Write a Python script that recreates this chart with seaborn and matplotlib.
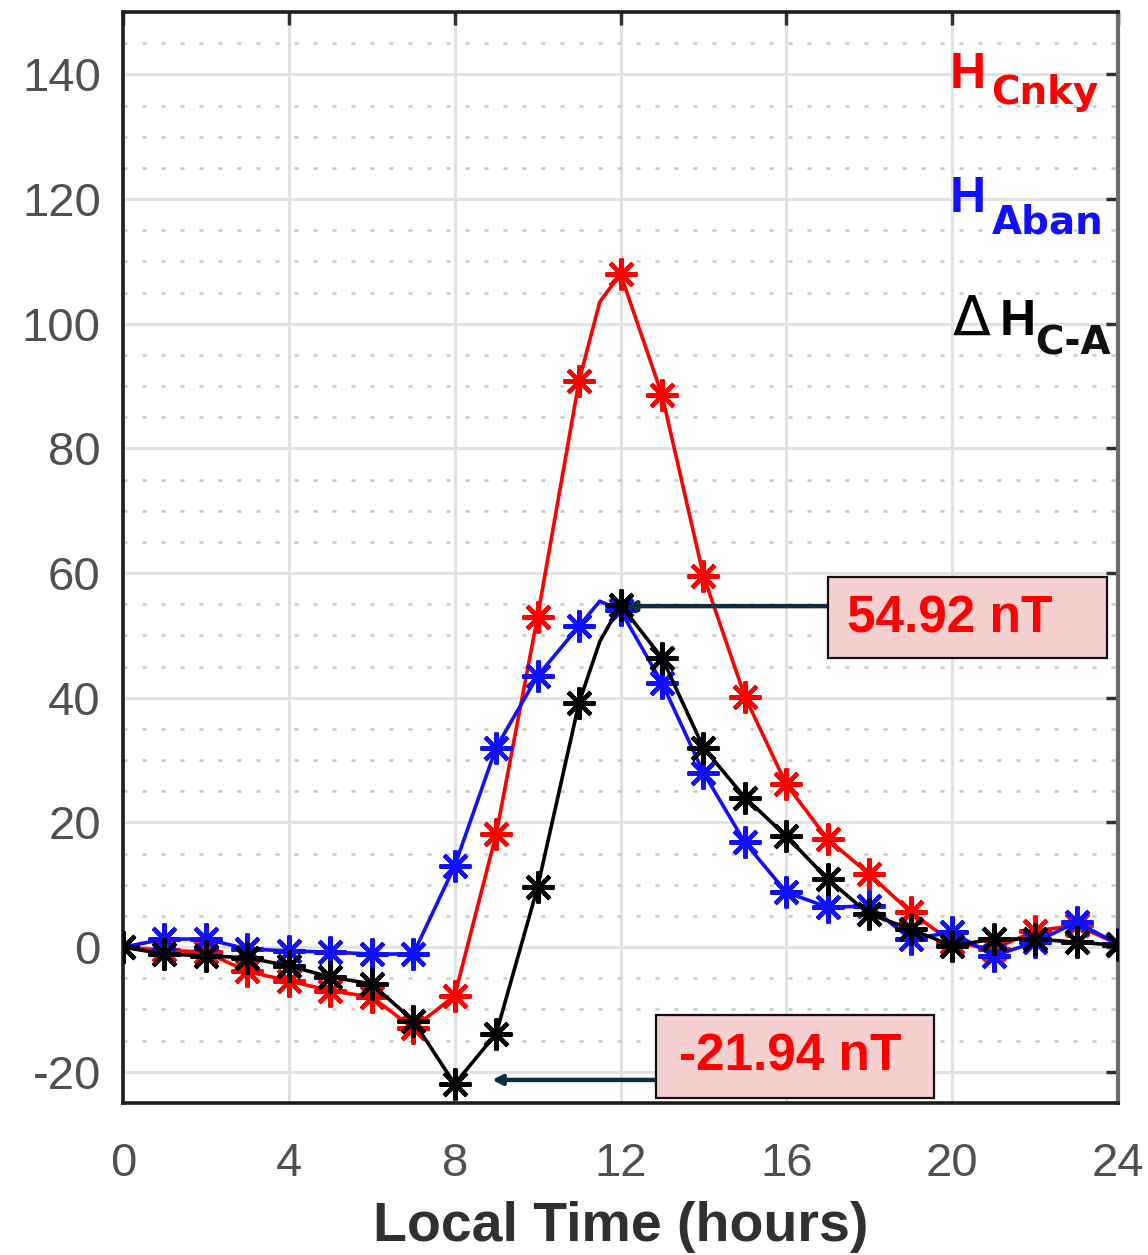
import numpy as np
import pandas as pd
import matplotlib
matplotlib.use("Agg")
import matplotlib.pyplot as plt
import seaborn as sns
from matplotlib.patches import Rectangle
from matplotlib.ticker import MultipleLocator

# ---- data ----
hours = list(range(0, 25))
h_cnky = [0, -0.5, -0.8, -3.9, -5.4, -7.0, -8.0, -13.0, -7.8, 18.1, 53.0, 90.8, 108.0,
          88.6, 59.6, 40.2, 26.1, 17.3, 11.7, 5.6, 0.8, -0.3, 2.6, 3.5, 0.5]
h_aban = [0, 1.3, 1.3, -0.3, -0.6, -0.8, -1.1, -1.1, 13.0, 32.0, 43.5, 51.5, 54.0,
          42.4, 28.0, 16.8, 8.8, 6.4, 6.6, 1.3, 2.4, -1.4, 0.8, 4.0, 0.5]
dh_ca = [0, -1.1, -1.4, -1.7, -3.0, -4.8, -5.9, -11.8, -21.94, -13.9, 9.6, 39.2, 54.92,
         46.4, 32.0, 24.0, 17.8, 10.9, 5.3, 2.9, 0.2, 1.3, 1.3, 0.8, 0.3]

# extra readings of the curves between the hourly markers (near the peak)
mid_hours = [11.5]
h_cnky_mid = [103.5]
h_aban_mid = [55.5]
dh_ca_mid = [49.0]

series_names = ["H_Cnky", "H_Aban", "dH_CA"]
series_colors = ["#FF0000", "#1010FF", "#000000"]
x_ticks = [0, 4, 8, 12, 16, 20, 24]
y_ticks = [-20, 0, 20, 40, 60, 80, 100, 120, 140]
peak_label = "54.92 nT"
trough_label = "-21.94 nT"

hourly = pd.DataFrame({
    "hour": hours * 3,
    "value": h_cnky + h_aban + dh_ca,
    "series": sum([[n] * len(hours) for n in series_names], []),
})
mids = pd.DataFrame({
    "hour": mid_hours * 3,
    "value": h_cnky_mid + h_aban_mid + dh_ca_mid,
    "series": sum([[n] * len(mid_hours) for n in series_names], []),
})
curve = pd.concat([hourly, mids]).sort_values(["series", "hour"])

sns.set_style("white")
plt.rcParams["font.family"] = ["Liberation Sans", "DejaVu Sans"]

fig = plt.figure(figsize=(11.48, 12.55), dpi=100)
ax = fig.add_axes([123 / 1148, 1 - 1103 / 1255, (1118 - 123) / 1148, (1103 - 12) / 1255])

# grid
ax.set_xlim(0, 24)
ax.set_ylim(-25, 150)
ax.xaxis.set_major_locator(MultipleLocator(4))
ax.yaxis.set_major_locator(MultipleLocator(20))
ax.yaxis.set_minor_locator(MultipleLocator(5))
ax.grid(which="major", color="#E2E2E2", linewidth=2.2, linestyle="-", zorder=0)
ax.grid(which="minor", axis="y", color="#C9C9C9", linewidth=1.8, linestyle=(0, (1.6, 6.0)), zorder=0)
ax.set_axisbelow(True)

star = (8, 2, 0)
for name, col in zip(series_names, series_colors):
    sns.lineplot(data=curve[curve["series"] == name], x="hour", y="value", color=col,
                 linewidth=2.6, ax=ax, zorder=3, sort=True)
    sns.lineplot(data=hourly[hourly["series"] == name], x="hour", y="value", color=col,
                 linewidth=0, marker=star, markersize=23, markeredgewidth=3.0,
                 markeredgecolor=col, markerfacecolor=col, ax=ax, zorder=3)

ax.set_xticks(x_ticks)
ax.set_yticks(y_ticks)
ax.set_xticklabels([str(t) for t in x_ticks])
ax.set_yticklabels([str(t) for t in y_ticks])
ax.tick_params(axis="both", which="major", direction="in", length=9, width=2.5,
               labelsize=34, labelcolor="#505050", color="#303030",
               top=True, right=True)
ax.tick_params(axis="x", pad=28)
ax.tick_params(axis="y", pad=16)
ax.tick_params(which="minor", length=0)

for side in ["left", "bottom", "top"]:
    ax.spines[side].set_color("#1E1E1E")
    ax.spines[side].set_linewidth(2.6)
ax.spines["right"].set_color("#6A6A6A")
ax.spines["right"].set_linewidth(3.0)

ax.set_ylabel("")
ax.set_xlabel("Local Time (hours)", fontsize=40, fontweight="bold", color="#303030", labelpad=11)

# legend-like labels
ax.text(19.95, 137.8, "H", color="#FF0000", fontsize=36, fontweight="bold", ha="left", va="baseline")
ax.text(20.95, 135.2, "Cnky", color="#FF0000", fontsize=28, fontweight="bold",
        family="DejaVu Sans", ha="left", va="baseline")
ax.text(19.95, 117.9, "H", color="#1010FF", fontsize=36, fontweight="bold", ha="left", va="baseline")
ax.text(20.95, 114.5, "Aban", color="#1010FF", fontsize=28, fontweight="bold",
        family="DejaVu Sans", ha="left", va="baseline")
ax.text(20.0, 98.2, "\u0394", color="#000000", fontsize=40, fontweight="normal",
        family="DejaVu Sans", ha="left", va="baseline")
ax.text(21.15, 98.2, "H", color="#000000", fontsize=36, fontweight="bold",
        ha="left", va="baseline")
ax.text(22.0, 95.0, "C-A", color="#111111", fontsize=28, fontweight="bold",
        family="DejaVu Sans", ha="left", va="baseline", clip_on=False)

# annotation boxes
box_fc = "#F6CFCF"
arrow_c = "#0F2D40"
ax.add_patch(Rectangle((17.0, 46.3), 6.73, 13.1, facecolor=box_fc, edgecolor="#111111",
                       linewidth=1.6, zorder=5))
ax.text(19.95, 52.7, peak_label, color="#FF0000", fontsize=37, fontweight="bold",
        ha="center", va="center", zorder=6)
ax.annotate("", xy=(12.12, 54.7), xytext=(17.0, 54.7),
            arrowprops=dict(arrowstyle="-|>", color=arrow_c, lw=3.2, mutation_scale=14,
                            shrinkA=0, shrinkB=0), zorder=4)

ax.add_patch(Rectangle((12.85, -24.2), 6.71, 13.3, facecolor=box_fc, edgecolor="#111111",
                       linewidth=1.6, zorder=5))
ax.text(16.1, -17.7, trough_label, color="#FF0000", fontsize=37, fontweight="bold",
        ha="center", va="center", zorder=6)
ax.annotate("", xy=(8.9, -21.3), xytext=(12.85, -21.3),
            arrowprops=dict(arrowstyle="-|>", color=arrow_c, lw=3.2, mutation_scale=14,
                            shrinkA=0, shrinkB=0), zorder=4)

fig.savefig("out.png", dpi=100)
